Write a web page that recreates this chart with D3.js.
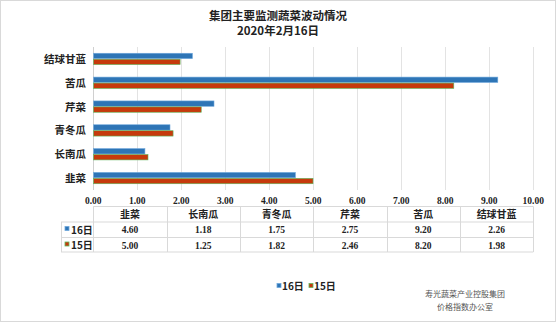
<!DOCTYPE html>
<html><head><meta charset="utf-8">
<script src="https://cdn.jsdelivr.net/npm/d3@7"></script>
<style>
html,body{margin:0;padding:0;background:#fff;}
svg{display:block;}
</style></head>
<body>
<svg id="chart" width="556" height="322"></svg>
<script>
const categories = ["韭菜", "长南瓜", "青冬瓜", "芹菜", "苦瓜", "结球甘蓝"];
const seriesNames = ["16日", "15日"];
const values16 = [4.60, 1.18, 1.75, 2.75, 9.20, 2.26];
const values15 = [5.00, 1.25, 1.82, 2.46, 8.20, 1.98];
const xTicks = [0,1,2,3,4,5,6,7,8,9,10];
const titleLines = ["集团主要监测蔬菜波动情况", "2020年2月16日"];
const footerLines = ["寿光蔬菜产业控股集团", "价格指数办公室"];

const fills = ["#2E75B6", "#C63A0C"];
const strokes = ["#6FA8DC", "#5CB85C"];
const seriesVals = [values16, values15];

const svg = d3.select("#chart");
const cjk = "'Noto Sans CJK SC', sans-serif";
const num = "'Liberation Serif', 'Noto Sans CJK SC', serif";

svg.append("rect").attr("x",0.5).attr("y",0.5).attr("width",555).attr("height",321)
  .attr("fill","#fff").attr("stroke","#d9d9d9");

svg.selectAll("text.title").data(titleLines).join("text")
  .attr("x",278).attr("y",(d,i)=>20+i*15)
  .attr("text-anchor","middle").attr("font-family",cjk).attr("font-weight","bold")
  .attr("font-size",11.5).attr("fill","#222").text(d=>d);

const x = d3.scaleLinear().domain([0,10]).range([93.3,533.3]);
const y = d3.scaleBand().domain(categories.slice().reverse()).range([47,190]).paddingInner(0.5).paddingOuter(0.25);
const ys = d3.scaleBand().domain(seriesNames).range([0,y.bandwidth()]);

svg.append("g").selectAll("line").data(xTicks.slice(1)).join("line")
  .attr("x1",d=>Math.round(x(d))+0.5).attr("x2",d=>Math.round(x(d))+0.5)
  .attr("y1",47).attr("y2",190).attr("stroke","#e3e3e3").attr("stroke-width",1);
svg.append("line").attr("x1",93.5).attr("x2",93.5).attr("y1",47).attr("y2",190)
  .attr("stroke","#d0d0d0");

seriesNames.forEach((s,si)=>{
  svg.append("g").selectAll("rect").data(categories).join("rect")
    .attr("x",x(0)+0.3)
    .attr("y",d=>y(d)+ys(s)+0.3)
    .attr("width",(d,i)=>x(seriesVals[si][i])-x(0)-0.6)
    .attr("height",ys.bandwidth()-0.6)
    .attr("fill",fills[si]).attr("stroke",strokes[si]).attr("stroke-width",0.6);
});

svg.append("g").selectAll("text").data(categories).join("text")
  .attr("x",86).attr("y",d=>y(d)+y.bandwidth()/2+4)
  .attr("text-anchor","end").attr("font-family",cjk).attr("font-weight","bold")
  .attr("font-size",10.5).attr("fill","#222").text(d=>d);

svg.append("g").selectAll("text").data(xTicks).join("text")
  .attr("x",d=>x(d)).attr("y",204)
  .attr("text-anchor","middle").attr("font-family",num).attr("font-weight","bold")
  .attr("font-size",9.5).attr("fill","#222").text(d=>d3.format(".2f")(d));

const tLeft = 61, tRight = 533.3, colW = (tRight - x(0))/categories.length;
const rows = [206.5, 222, 237.5, 252];
const tg = svg.append("g");
const grid = "#d9d9d9";
tg.append("line").attr("x1",x(0)).attr("x2",tRight).attr("y1",rows[0]).attr("y2",rows[0]).attr("stroke",grid);
[1,2,3].forEach(r=>{
  tg.append("line").attr("x1",tLeft).attr("x2",tRight).attr("y1",rows[r]).attr("y2",rows[r]).attr("stroke",grid);
});
tg.append("line").attr("x1",tLeft+0.5).attr("x2",tLeft+0.5).attr("y1",rows[1]).attr("y2",rows[3]).attr("stroke",grid);
d3.range(categories.length+1).forEach(i=>{
  const xx = Math.round(x(0)+i*colW)+0.5;
  tg.append("line").attr("x1",xx).attr("x2",xx).attr("y1",rows[0]).attr("y2",rows[3]).attr("stroke",grid);
});
tg.selectAll("text.h").data(categories).join("text")
  .attr("x",(d,i)=>x(0)+colW*(i+0.5)).attr("y",rows[0]+11.5)
  .attr("text-anchor","middle").attr("font-family",cjk).attr("font-weight","bold")
  .attr("font-size",10).attr("fill","#222").text(d=>d);
seriesNames.forEach((s,si)=>{
  const ry = rows[si+1];
  tg.append("rect").attr("x",65).attr("y",ry+4.5).attr("width",4).attr("height",4)
    .attr("fill",fills[si]).attr("stroke",strokes[si]).attr("stroke-width",0.8);
  tg.append("text").attr("x",71).attr("y",ry+11.5).attr("font-family",cjk).attr("font-weight","bold")
    .attr("font-size",10).attr("fill","#222").text(s);
  tg.append("g").selectAll("text").data(seriesVals[si]).join("text")
    .attr("x",(d,i)=>x(0)+colW*(i+0.5)).attr("y",ry+11)
    .attr("text-anchor","middle").attr("font-family",num).attr("font-weight","bold")
    .attr("font-size",9.5).attr("fill","#222").text(d=>d3.format(".2f")(d));
});

const lx = [277, 309];
seriesNames.forEach((s,si)=>{
  svg.append("rect").attr("x",lx[si]).attr("y",283.5).attr("width",4).attr("height",4)
    .attr("fill",fills[si]).attr("stroke",strokes[si]).attr("stroke-width",0.8);
  svg.append("text").attr("x",lx[si]+5).attr("y",289.5).attr("font-family",cjk).attr("font-weight","bold")
    .attr("font-size",10).attr("fill","#222").text(s);
});

svg.selectAll("text.foot").data(footerLines).join("text")
  .attr("x",465).attr("y",(d,i)=>297+i*13)
  .attr("text-anchor","middle").attr("font-family",cjk)
  .attr("font-size",8).attr("fill","#555").text(d=>d);
</script>
</body></html>
